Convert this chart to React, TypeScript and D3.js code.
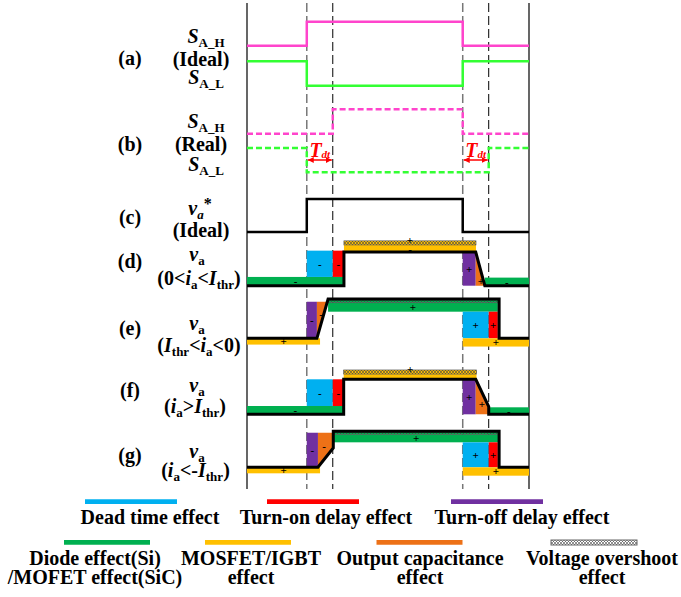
import * as d3 from "d3";
import React from "react";

// time axis: 0 .. end of period, dead time = 1 unit
const T_END = 10.85;
const switchTimes = [2.3, 8.3];
const delayedTimes = [3.3, 9.3];

type Pt = [number, number];

// gate signals and phase voltage waveforms (time, level)
const sahIdeal: Pt[] = [[0, 0], [2.3, 0], [2.3, 1], [8.3, 1], [8.3, 0], [T_END, 0]];
const salIdeal: Pt[] = [[0, 1], [2.3, 1], [2.3, 0], [8.3, 0], [8.3, 1], [T_END, 1]];
const sahReal: Pt[] = [[0, 0], [3.3, 0], [3.3, 1], [8.3, 1], [8.3, 0], [T_END, 0]];
const salReal: Pt[] = [[0, 1], [2.3, 1], [2.3, 0], [9.3, 0], [9.3, 1], [T_END, 1]];
const vaIdeal: Pt[] = [[0, 0], [2.3, 0], [2.3, 1], [8.3, 1], [8.3, 0], [T_END, 0]];
const vaD: Pt[] = [[0, 0], [3.73, 0], [3.73, 1], [8.8, 1], [9.15, 0], [T_END, 0]];
const vaE: Pt[] = [[0, 0], [2.69, 0], [3.12, 1], [9.7, 1], [9.7, 0], [T_END, 0]];
const vaF: Pt[] = [[0, 0], [3.72, 0], [3.72, 1], [8.8, 1], [9.3, 0.22], [9.3, 0], [T_END, 0]];
const vaG: Pt[] = [[0, 0], [2.73, 0], [3.32, 0.54], [3.32, 1], [9.7, 1], [9.7, 0], [T_END, 0]];

type Block = { kind: string; t0: number; t1: number; v0: number; v1: number; sign: string };
type Cap = { pts: Pt[]; sign: string; at: Pt };

const effectsD: Block[] = [
  { kind: "diode", t0: 0, t1: 3.73, v0: 0, v1: 0.26, sign: "-" },
  { kind: "dead", t0: 2.3, t1: 3.3, v0: 0.26, v1: 1.04, sign: "-" },
  { kind: "on", t0: 3.3, t1: 3.73, v0: 0.26, v1: 1.04, sign: "-" },
  { kind: "mos", t0: 3.73, t1: 8.81, v0: 1, v1: 1.21, sign: "-" },
  { kind: "over", t0: 3.73, t1: 8.81, v0: 1.21, v1: 1.33, sign: "+" },
  { kind: "off", t0: 8.3, t1: 8.8, v0: 0, v1: 1, sign: "+" },
  { kind: "diode", t0: 9.15, t1: T_END, v0: 0, v1: 0.24, sign: "-" },
];
const capD: Cap = { pts: [[8.8, 1], [8.84, 1], [9.15, 0], [8.8, 0]], sign: "+", at: [9.0, 0.14] };

const effectsE: Block[] = [
  { kind: "mos", t0: 0, t1: 2.81, v0: -0.16, v1: 0, sign: "+" },
  { kind: "off", t0: 2.3, t1: 2.69, v0: 0, v1: 0.93, sign: "-" },
  { kind: "diode", t0: 3.12, t1: 9.65, v0: 0.677, v1: 0.906, sign: "+" },
  { kind: "over", t0: 3.12, t1: 9.7, v0: 0.906, v1: 1, sign: "-" },
  { kind: "dead", t0: 8.3, t1: 9.3, v0: 0, v1: 0.677, sign: "+" },
  { kind: "on", t0: 9.3, t1: 9.65, v0: 0, v1: 0.677, sign: "+" },
  { kind: "mos", t0: 8.3, t1: T_END, v0: -0.21, v1: 0, sign: "+" },
];
const capE: Cap = { pts: [[2.69, 0.93], [3.09, 0.93], [2.69, 0]], sign: "-", at: [2.85, 0.62] };

const effectsF: Block[] = [
  { kind: "diode", t0: 0, t1: 3.72, v0: 0, v1: 0.237, sign: "-" },
  { kind: "dead", t0: 2.3, t1: 3.3, v0: 0.237, v1: 1, sign: "-" },
  { kind: "on", t0: 3.3, t1: 3.72, v0: 0.237, v1: 1, sign: "-" },
  { kind: "mos", t0: 3.72, t1: 8.83, v0: 1, v1: 1.15, sign: "-" },
  { kind: "over", t0: 3.72, t1: 8.83, v0: 1.15, v1: 1.266, sign: "+" },
  { kind: "off", t0: 8.3, t1: 8.8, v0: 0, v1: 1, sign: "+" },
  { kind: "diode", t0: 9.3, t1: T_END, v0: 0, v1: 0.2, sign: "-" },
];
const capF: Cap = { pts: [[8.8, 1], [8.85, 1], [9.3, 0.22], [9.3, 0], [8.8, 0]], sign: "+", at: [9.04, 0.3] };

const effectsG: Block[] = [
  { kind: "mos", t0: 0, t1: 2.81, v0: -0.167, v1: 0, sign: "+" },
  { kind: "off", t0: 2.3, t1: 2.73, v0: 0, v1: 0.96, sign: "-" },
  { kind: "diode", t0: 3.32, t1: 9.7, v0: 0.694, v1: 0.917, sign: "+" },
  { kind: "over", t0: 3.32, t1: 9.7, v0: 0.917, v1: 1, sign: "-" },
  { kind: "dead", t0: 8.3, t1: 9.3, v0: 0, v1: 0.694, sign: "+" },
  { kind: "on", t0: 9.3, t1: 9.65, v0: 0, v1: 0.694, sign: "+" },
  { kind: "mos", t0: 8.3, t1: T_END, v0: -0.233, v1: 0, sign: "+" },
];
const capG: Cap = { pts: [[2.73, 0.96], [3.32, 0.96], [3.32, 0.54], [2.73, 0]], sign: "-", at: [2.97, 0.6] };

// legend
const legendRow1 = ["dead", "on", "off"];
const legendRow1Text = ["Dead time effect", "Turn-on delay effect", "Turn-off delay effect"];
const legendRow2 = ["diode", "mos", "cap", "over"];
const legendRow2Text = [
  ["Diode effect(Si)", "/MOFET effect(SiC)"],
  ["MOSFET/IGBT", "effect"],
  ["Output capacitance", "effect"],
  ["Voltage overshoot", "effect"],
];

const colors: Record<string, string> = {
  dead: "#00b0f0",
  on: "#ff0000",
  off: "#7030a0",
  diode: "#00b050",
  mos: "#ffc000",
  cap: "#ed7117",
  over: "#ffffff",
};

const FONT = "'Liberation Serif', 'Times New Roman', serif";

const x = d3.scaleLinear().domain([0, T_END]).range([247, 529]);

const rowScale = (low: number, high: number) => d3.scaleLinear().domain([0, 1]).range([low, high]);

function Wave({ data, low, high, color, width, dash }: { data: Pt[]; low: number; high: number; color: string; width: number; dash?: string }) {
  const y = rowScale(low, high);
  const line = d3.line<Pt>().x((d) => x(d[0])).y((d) => y(d[1]));
  return (
    <path d={line(data) || ""} fill="none" stroke={color} strokeWidth={width} strokeDasharray={dash} strokeLinejoin="miter" />
  );
}

function EffectRow({ wave, blocks, cap, low, high, overBase }: { wave: Pt[]; blocks: Block[]; cap: Cap; low: number; high: number; overBase: string }) {
  const y = rowScale(low, high);
  const poly = cap.pts.map((p) => `${x(p[0])},${y(p[1])}`).join(" ");
  return (
    <g>
      {blocks.map((b, i) => {
        const rx = x(b.t0);
        const ry = y(Math.max(b.v0, b.v1));
        const w = x(b.t1) - x(b.t0);
        const h = Math.abs(y(b.v0) - y(b.v1));
        if (b.kind === "over") {
          return (
            <g key={i}>
              <rect x={rx} y={ry} width={w} height={h} fill={colors[overBase]} />
              <rect x={rx} y={ry} width={w} height={h} fill="url(#hatch)" stroke="#555" strokeWidth={0.7} />
            </g>
          );
        }
        return <rect key={i} x={rx} y={ry} width={w} height={h} fill={colors[b.kind]} />;
      })}
      <polygon points={poly} fill={colors.cap} />
      <Wave data={wave} low={low} high={high} color="#000" width={3} />
      {blocks.map((b, i) => {
        // overshoot sign sits on the strip's outer edge, as in the figure
        const sy = b.kind === "over" ? y(Math.max(b.v0, b.v1)) - 1 : (y(b.v0) + y(b.v1)) / 2 + (b.kind === "mos" && b.v1 > 1 ? 1 : 0);
        return (
          <text key={"s" + i} x={(x(b.t0) + x(b.t1)) / 2} y={sy} textAnchor="middle" dominantBaseline="central" fontSize={11} fontWeight="bold" fontFamily={FONT}>
            {b.sign}
          </text>
        );
      })}
      <text x={x(cap.at[0])} y={y(cap.at[1])} textAnchor="middle" dominantBaseline="central" fontSize={11} fontWeight="bold" fontFamily={FONT}>
        {cap.sign}
      </text>
    </g>
  );
}

const Sub = ({ children, it }: { children: React.ReactNode; it?: boolean }) => (
  <tspan fontSize={13} dy={4} fontStyle={it ? "italic" : "normal"}>{children}</tspan>
);
const Back = ({ children, it }: { children: React.ReactNode; it?: boolean }) => (
  <tspan dy={-4} fontStyle={it ? "italic" : "normal"}>{children}</tspan>
);

function SLabel({ cx, y, sub }: { cx: number; y: number; sub: string }) {
  return (
    <text x={cx} y={y} textAnchor="middle">
      <tspan fontStyle="italic">S</tspan>
      <Sub>{sub}</Sub>
    </text>
  );
}

function VaLabel({ y }: { y: number }) {
  return (
    <text x={197} y={y} textAnchor="middle">
      <tspan fontStyle="italic">v</tspan>
      <Sub>a</Sub>
    </text>
  );
}

function Tdt({ t0, t1 }: { t0: number; t1: number }) {
  const cx = (x(t0) + x(t1)) / 2;
  return (
    <g fill="#ff0000">
      <line x1={x(t0) + 1} x2={x(t1) - 1} y1={160} y2={160} stroke="#ff0000" strokeWidth={1.5} markerStart="url(#arr)" markerEnd="url(#arr)" />
      <text x={cx} y={157} textAnchor="middle" fontStyle="italic" fontWeight="bold" fontFamily={FONT} fontSize={20}>
        T<tspan fontSize={11} dy={1}>dt</tspan>
      </text>
    </g>
  );
}

export default function App() {
  const legendX1 = [131, 313, 497];
  const legendT1 = [150, 326, 522];
  const legendX2 = [107, 248, 419.5, 594];
  const legendT2 = [95, 251, 420, 602];
  return (
    <svg width={681} height={597} style={{ position: "absolute", left: 0, top: 0, background: "#fff" }}>
      <defs>
        <pattern id="hatch" width={3} height={3} patternUnits="userSpaceOnUse">
          <path d="M0,0 L3,3 M3,0 L0,3" stroke="#444" strokeWidth={0.6} />
        </pattern>
        <marker id="arr" viewBox="0 0 10 10" refX={10} refY={5} markerWidth={4} markerHeight={4} orient="auto-start-reverse">
          <path d="M0,0 L10,5 L0,10 z" fill="#ff0000" />
        </marker>
      </defs>

      {/* time grid */}
      {[0, T_END].map((t) => (
        <line key={t} x1={x(t)} x2={x(t)} y1={3} y2={489} stroke="#000" strokeWidth={1.2} />
      ))}
      {switchTimes.map((t) => (
        <line key={"s" + t} x1={x(t)} x2={x(t)} y1={3} y2={489} stroke="#777" strokeWidth={1.5} strokeDasharray="9,4" />
      ))}
      {delayedTimes.map((t) => (
        <line key={"d" + t} x1={x(t)} x2={x(t)} y1={3} y2={489} stroke="#000" strokeWidth={1} strokeDasharray="9,4" />
      ))}

      {/* (a) ideal gate signals */}
      <Wave data={sahIdeal} low={45.7} high={21.7} color="#ff44cc" width={2.5} />
      <Wave data={salIdeal} low={85.7} high={61.3} color="#33ff33" width={2.5} />
      {/* (b) real gate signals */}
      <Wave data={sahReal} low={133.7} high={109.3} color="#ff44cc" width={2.5} dash="6,3" />
      <Wave data={salReal} low={172.3} high={148} color="#33ff33" width={2.5} dash="6,3" />
      <Tdt t0={switchTimes[0]} t1={delayedTimes[0]} />
      <Tdt t0={switchTimes[1]} t1={delayedTimes[1]} />
      {/* (c) ideal voltage */}
      <Wave data={vaIdeal} low={232} high={199} color="#000" width={2.5} />

      <EffectRow wave={vaD} blocks={effectsD} cap={capD} low={285.7} high={252} overBase="mos" />
      <EffectRow wave={vaE} blocks={effectsE} cap={capE} low={338.3} high={299} overBase="diode" />
      <EffectRow wave={vaF} blocks={effectsF} cap={capF} low={414.3} high={379.3} overBase="mos" />
      <EffectRow wave={vaG} blocks={effectsG} cap={capG} low={467.3} high={431.3} overBase="diode" />

      {/* row labels */}
      <g fontFamily={FONT} fontWeight="bold" fontSize={20} fill="#000">
        <text x={130} y={65} textAnchor="middle">(a)</text>
        <SLabel cx={206} y={42.7} sub="A_H" />
        <text x={201} y={65.7} textAnchor="middle">(Ideal)</text>
        <SLabel cx={206} y={84.3} sub="A_L" />

        <text x={130} y={150.5} textAnchor="middle">(b)</text>
        <SLabel cx={206} y={128.3} sub="A_H" />
        <text x={201} y={150.7} textAnchor="middle">(Real)</text>
        <SLabel cx={206} y={170.7} sub="A_L" />

        <text x={130} y={224} textAnchor="middle">(c)</text>
        <text x={200} y={215} textAnchor="middle">
          <tspan fontStyle="italic">v</tspan>
          <Sub it>a</Sub>
          <tspan dy={-10} fontSize={16}>*</tspan>
        </text>
        <text x={201} y={237} textAnchor="middle">(Ideal)</text>

        <text x={130} y={268.3} textAnchor="middle">(d)</text>
        <VaLabel y={260.7} />
        <text x={199} y={285} textAnchor="middle">
          (0&lt;<tspan fontStyle="italic">i</tspan>
          <Sub>a</Sub>
          <Back>&lt;</Back>
          <tspan fontStyle="italic">I</tspan>
          <Sub>thr</Sub>
          <Back>)</Back>
        </text>

        <text x={130} y={335} textAnchor="middle">(e)</text>
        <VaLabel y={330} />
        <text x={199} y={351.7} textAnchor="middle">
          (<tspan fontStyle="italic">I</tspan>
          <Sub>thr</Sub>
          <Back>&lt;</Back>
          <tspan fontStyle="italic">i</tspan>
          <Sub>a</Sub>
          <Back>&lt;0)</Back>
        </text>

        <text x={130} y={396.7} textAnchor="middle">(f)</text>
        <VaLabel y={391.7} />
        <text x={195} y={413.3} textAnchor="middle">
          (<tspan fontStyle="italic">i</tspan>
          <Sub>a</Sub>
          <Back>&gt;</Back>
          <tspan fontStyle="italic">I</tspan>
          <Sub>thr</Sub>
          <Back>)</Back>
        </text>

        <text x={130} y={461.7} textAnchor="middle">(g)</text>
        <VaLabel y={458.3} />
        <text x={195.5} y={476.7} textAnchor="middle">
          (<tspan fontStyle="italic">i</tspan>
          <Sub>a</Sub>
          <Back>&lt;-</Back>
          <tspan fontStyle="italic">I</tspan>
          <Sub>thr</Sub>
          <Back>)</Back>
        </text>
      </g>

      {/* legend */}
      <g fontFamily={FONT} fontWeight="bold" fontSize={20} fill="#000">
        {legendRow1.map((k, i) => (
          <g key={k}>
            <line x1={legendX1[i] - 46} x2={legendX1[i] + 46} y1={501.7} y2={501.7} stroke={colors[k]} strokeWidth={4.7} />
            <text x={legendT1[i]} y={524.3} textAnchor="middle">{legendRow1Text[i]}</text>
          </g>
        ))}
        {legendRow2.map((k, i) => (
          <g key={k}>
            {k === "over" ? (
              <g>
                <rect x={legendX2[i] - 43} y={540} width={86} height={5} fill="#fff" />
                <rect x={legendX2[i] - 43} y={540} width={86} height={5} fill="url(#hatch)" stroke="#666" strokeWidth={1} />
              </g>
            ) : (
              <line x1={legendX2[i] - 43} x2={legendX2[i] + 43} y1={542.4} y2={542.4} stroke={colors[k]} strokeWidth={4.7} />
            )}
            <text x={legendT2[i]} y={565} textAnchor="middle">{legendRow2Text[i][0]}</text>
            <text x={legendT2[i]} y={584.3} textAnchor="middle">{legendRow2Text[i][1]}</text>
          </g>
        ))}
      </g>
    </svg>
  );
}
